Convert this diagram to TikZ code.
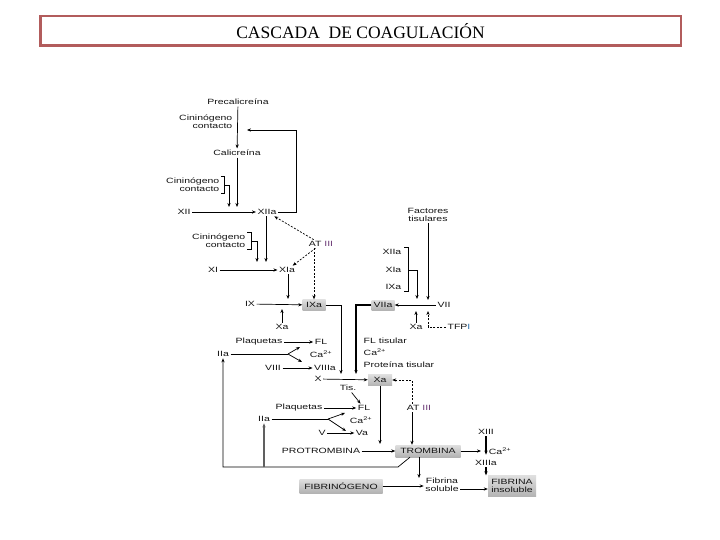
\documentclass[tikz,border=0pt]{standalone}
\usepackage{fontspec}
\setmainfont{Liberation Serif}
\newfontfamily\cascfont{Liberation Sans}[FakeStretch=1.38]
\usetikzlibrary{arrows.meta}
\definecolor{titlered}{RGB}{178,92,92}
\definecolor{atpurple}{RGB}{110,60,120}
\definecolor{tfpiblue}{RGB}{40,110,170}

\begin{document}
\begin{tikzpicture}[
    x=1pt,y=-1pt,
    every node/.style={font=\cascfont\fontsize{7.6}{7.8}\selectfont,text=black!92,inner sep=1.5pt},
    titlebox/.style={draw=titlered,line width=2.5pt,minimum width=640.5pt,minimum height=29.5pt,font=\rmfamily\fontsize{17.5}{20}\selectfont,text=black},
    activebox/.style={top color=gray!25,bottom color=gray!60,inner sep=0pt},
    arrow/.style={-{Stealth[length=4pt,width=3.2pt]},line width=0.7pt},
    thickarrow/.style={arrow,line width=1.4pt},
    grayarrow/.style={arrow,line width=1.8pt,draw=gray!75!black},
    inhib/.style={arrow,dash pattern=on 2pt off 1.5pt},
    bracket/.style={line width=0.7pt}
]
\path[use as bounding box,fill=white] (0,0) rectangle (720,540);

% =====================
% TITLE
% =====================
\node[titlebox] (title) at (360.5,31) {CASCADA\ \ DE COAGULACIÓN};

% =====================
% INTRINSIC PATHWAY
% =====================
\node (precal) at (238,102) {Precalicreína};
\node[align=right,anchor=east] (cinA) at (234,122) {Cininógeno\\contacto};
\node (calic) at (237,153) {Calicreína};
\node[align=right,anchor=east] (cinB) at (221,185) {Cininógeno\\contacto};
\node (xii) at (184,212) {XII};
\node (xiia) at (267,212) {XIIa};
\node[align=right,anchor=east] (cinC) at (247,241) {Cininógeno\\contacto};
\node (atiiiA) at (321,244) {AT \textcolor{atpurple}{III}};
\node (xi) at (213,270) {XI};
\node (xia) at (287,270) {XIa};
\node (ix) at (250,304) {IX};
\node[activebox,minimum width=23pt,minimum height=11pt] (ixa) at (314,305) {IXa};
\node (xaA) at (282,327) {Xa};

\coordinate (fbA) at (247,130);
\coordinate (jB) at (229,207);
\coordinate (jC) at (237,207);
\coordinate (jD) at (266,262);
\coordinate (jR) at (257,262);
\coordinate (jE) at (288,299);
\coordinate (jF) at (282,309);
\coordinate (jG) at (341,374);

\draw[arrow] (precal) -- (calic);
\draw[arrow] (xiia.east) -| (296,130) -- (fbA);
\draw[bracket] (cinB.north east) -| ([xshift=3pt]cinB.south east) -- (cinB.south east);
\draw[arrow] ([xshift=3pt]cinB.east) -| (jB);
\draw[arrow] (calic) -- (jC);
\draw[arrow] (xii) -- (xiia);
\draw[inhib] (atiiiA) -- (xiia);
\draw[inhib] (atiiiA) -- (xia);
\draw[inhib] (atiiiA.south -| ixa.north) -- (ixa.north);
\draw[bracket] (cinC.north east) -| ([xshift=4pt]cinC.south east) -- (cinC.south east);
\draw[arrow] ([xshift=4pt]cinC.east) -| (jR);
\draw[arrow] (xiia.south -| jD) -- (jD);
\draw[arrow] (xi) -- (xia);
\draw[arrow] (xia.south -| jE) -- (jE);
\draw[arrow] (ix) -- (ixa);
\draw[arrow] (xaA) -- (jF);
\draw[arrow] (ixa.east) -| (jG);

% =====================
% FACTOR X ACTIVATION
% =====================
\node (plaqA) at (259,342) {Plaquetas};
\node (fla) at (321,342) {FL};
\node (ca1) at (321,354) {Ca\textsuperscript{2+}};
\node (iia1) at (223,354) {IIa};
\node (viii) at (273,368) {VIII};
\node (viiia) at (325,368) {VIIIa};
\node (x) at (318,379) {X};
\node[activebox,minimum width=24pt,minimum height=11pt] (xaC) at (380,380) {Xa};

\coordinate (fkA) at (288,354);
\coordinate (fkAup) at (300,347);
\coordinate (fkAdn) at (302,362);

\draw[arrow] (plaqA) -- (fla);
\draw[arrow] (viii) -- (viiia);
\draw[bracket] (iia1) -- (fkA);
\draw[arrow] (fkA) -- (fkAup);
\draw[arrow] (fkA) -- (fkAdn);
\draw[arrow] (x) -- (xaC);

% =====================
% PROTHROMBINASE
% =====================
\node (tis) at (348,388) {Tis.};
\node (flb) at (364,408) {FL};
\node (plaqB) at (299,408) {Plaquetas};
\node (iia2) at (264,419) {IIa};
\node (ca2) at (361,420) {Ca\textsuperscript{2+}};
\node (v) at (322,433) {V};
\node (va) at (362,433) {Va};
\node (protrom) at (321,451) {PROTROMBINA};
\node[activebox,minimum width=65pt,minimum height=12pt] (trombina) at (428,451) {TROMBINA};
\node (atiiiB) at (419,408) {AT \textcolor{atpurple}{III}};

\coordinate (fkB) at (328,419);
\coordinate (fkBup) at (345,413);
\coordinate (fkBdn) at (346,431);
\coordinate (jI) at (380,444);
\coordinate (loopc) at (398,467);

\draw[arrow] (tis) -- (flb);
\draw[arrow] (plaqB) -- (flb);
\draw[bracket] (iia2) -- (fkB);
\draw[arrow] (fkB) -- (fkBup);
\draw[arrow] (fkB) -- (fkBdn);
\draw[arrow] (v) -- (va);
\draw[arrow] (protrom) -- (trombina);
\draw[arrow] (xaC) -- (jI);
\draw[inhib] ([xshift=-7pt]atiiiB.north) |- (xaC.east);
\draw[arrow] ([xshift=-7pt]atiiiB.south) -- ([xshift=-7pt]atiiiB.south |- trombina.north);
\draw[arrow] ([xshift=-18pt]trombina.south) -- (loopc) -| (iia1.south);
\draw[grayarrow] (loopc -| iia2.south) -- (iia2.south);

% =====================
% FIBRIN
% =====================
\node (xiii) at (486,432) {XIII};
\node (ca3) at (500,451) {Ca\textsuperscript{2+}};
\node (xiiia) at (486,463) {XIIIa};
\node[align=center] (fibsol) at (442,485) {Fibrina\\soluble};
\node[activebox,minimum width=83pt,minimum height=14pt] (fibrinogeno) at (341,486) {FIBRINÓGENO};
\node[activebox,align=center,minimum width=48pt,minimum height=21pt] (fibins) at (512,486) {FIBRINA\\insoluble};

\coordinate (jK) at (481,451);
\coordinate (jL) at (419,478);

\draw[arrow] (trombina.east) -- (jK);
\draw[thickarrow,shorten >=4pt] (xiii) -- (xiiia);
\draw[thickarrow] (xiiia.south) -- (xiiia.south |- fibins.north);
\draw[arrow] (trombina.south -| jL) -- (jL);
\draw[arrow] (fibrinogeno.east) -- (fibrinogeno.east -| fibsol.west);
\draw[arrow] ([yshift=-4pt]fibsol.east) -- ([yshift=-4pt]fibsol.east -| fibins.west);

% =====================
% EXTRINSIC PATHWAY
% =====================
\node[align=center] (factis) at (428,215) {Factores\\tisulares};
\node[anchor=east] (xiiaB) at (403,252) {XIIa};
\node[anchor=east] (xiaB) at (403,270) {XIa};
\node[anchor=east] (ixaB) at (403,287) {IXa};
\node (vii) at (444,305) {VII};
\node[activebox,minimum width=23pt,minimum height=10pt] (viia) at (383,305) {VIIa};
\node (xaB) at (416,327) {Xa};
\node (tfpi) at (459,327) {TFP\textcolor{tfpiblue}{I}};
\node[anchor=west] (fltis) at (362,341) {FL tisular};
\node[anchor=west] (ca4) at (362,352) {Ca\textsuperscript{2+}};
\node[anchor=west] (prottis) at (362,365) {Proteína tisular};

\coordinate (jM) at (428,300);
\coordinate (jN) at (417,299);
\coordinate (jO) at (416,311);
\coordinate (jP) at (428,311);
\coordinate (jH) at (356,374);

\draw[arrow] (factis) -- (jM);
\draw[bracket] ([xshift=1pt]xiiaB.north east) -| ([xshift=5pt]ixaB.south east) -- ([xshift=1pt]ixaB.south east);
\draw[arrow] ([xshift=5pt]xiaB.east) -| (jN);
\draw[arrow] (vii) -- (viia);
\draw[arrow] (xaB) -- (jO);
\draw[inhib] (tfpi.west) -| (jP);
\draw[thickarrow] (viia.west) -| (jH);

\end{tikzpicture}
\end{document}
